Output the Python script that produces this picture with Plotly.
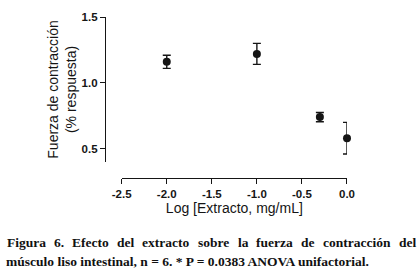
import plotly.graph_objects as go

# Data
log_conc = [-2.0, -1.0, -0.301, 0.0]
response = [1.16, 1.22, 0.74, 0.58]
sem = [0.05, 0.08, 0.035, 0.12]

x_ticks = [-2.5, -2.0, -1.5, -1.0, -0.5, 0.0]
x_tick_text = ["-2.5", "-2.0", "-1.5", "-1.0", "-0.5", "0.0"]
y_ticks = [0.5, 1.0, 1.5]
y_tick_text = ["0.5", "1.0", "1.5"]

caption_line1 = "Figura 6. Efecto del extracto sobre la fuerza de contracción del"
caption_line2 = "músculo liso intestinal, n = 6. * P = 0.0383 ANOVA unifactorial."

W, H = 420, 273
L, R, T, B = 105, 73, 17, 95

fig = go.Figure()
fig.add_trace(go.Scatter(
    x=log_conc, y=response, mode="markers",
    marker=dict(color="#151515", size=8),
    error_y=dict(type="data", array=sem, visible=True, color="#151515",
                 thickness=1.4, width=4),
    showlegend=False, cliponaxis=False,
))

sans = "Liberation Sans, Arial, sans-serif"
tick_font = dict(family=sans, size=11.5, color="#151515", weight="bold")
title_font = dict(family=sans, size=14, color="#151515")

fig.update_layout(
    width=W, height=H,
    margin=dict(l=L, r=R, t=T, b=B),
    paper_bgcolor="white", plot_bgcolor="white",
    xaxis=dict(
        domain=[0.069, 1.0], range=[-2.5, 0.0], anchor="free", position=0,
        tickvals=x_ticks, ticktext=x_tick_text,
        ticks="outside", ticklen=5, tickwidth=1.3, tickcolor="#151515",
        showline=True, linecolor="#151515", linewidth=1.3,
        showgrid=False, zeroline=False,
        tickfont=tick_font,
        title=dict(text="Log [Extracto, mg/mL]", font=title_font, standoff=0),
    ),
    yaxis=dict(
        domain=[0.1, 1.0], range=[0.4, 1.5], anchor="free", position=0,
        tickvals=y_ticks, ticktext=y_tick_text,
        ticks="outside", ticklen=5, tickwidth=1.3, tickcolor="#151515",
        showline=True, linecolor="#151515", linewidth=1.3,
        showgrid=False, zeroline=False,
        tickfont=tick_font,
        title=dict(text="Fuerza de contracción<br>(% respuesta)", font=title_font, standoff=0),
    ),
)

# Caption (Times bold), first line justified across the width
cap_size = 13.5
cap_font = dict(family="Liberation Serif, Times New Roman, serif", size=cap_size, color="#111111", weight="bold")
tb = {"F": 611, "E": 667, "a": 500, "b": 556, "c": 444, "d": 556, "e": 444, "f": 333, "g": 500,
      "i": 278, "l": 278, "n": 556, "o": 500, "r": 444, "s": 389, "t": 333, "u": 556, "x": 500,
      "z": 444, "ó": 500, "6": 500, ".": 250}
pw = W - L - R
ph = H - T - B

def px_to_paper_x(px):
    return (px - L) / pw

def px_to_paper_y(py):
    return (H - B - py) / ph

words = caption_line1.split(" ")
widths = [sum(tb.get(ch, 500) for ch in w) * cap_size / 1000 for w in words]
x0, x1 = 5.5, 415.0
gap = (x1 - x0 - sum(widths)) / (len(words) - 1)
xpos = x0
for w, wd in zip(words, widths):
    fig.add_annotation(text=w, xref="paper", yref="paper", x=px_to_paper_x(xpos),
                       y=px_to_paper_y(251), xanchor="left", yanchor="bottom",
                       showarrow=False, font=cap_font, borderpad=0)
    xpos += wd + gap

fig.add_annotation(text=caption_line2, xref="paper", yref="paper", x=px_to_paper_x(5),
                   y=px_to_paper_y(269.5), xanchor="left", yanchor="bottom",
                   showarrow=False, font=cap_font, borderpad=0)

fig.write_html("out.html", config={"displayModeBar": False},
               post_script="document.body.style.margin='0';")
